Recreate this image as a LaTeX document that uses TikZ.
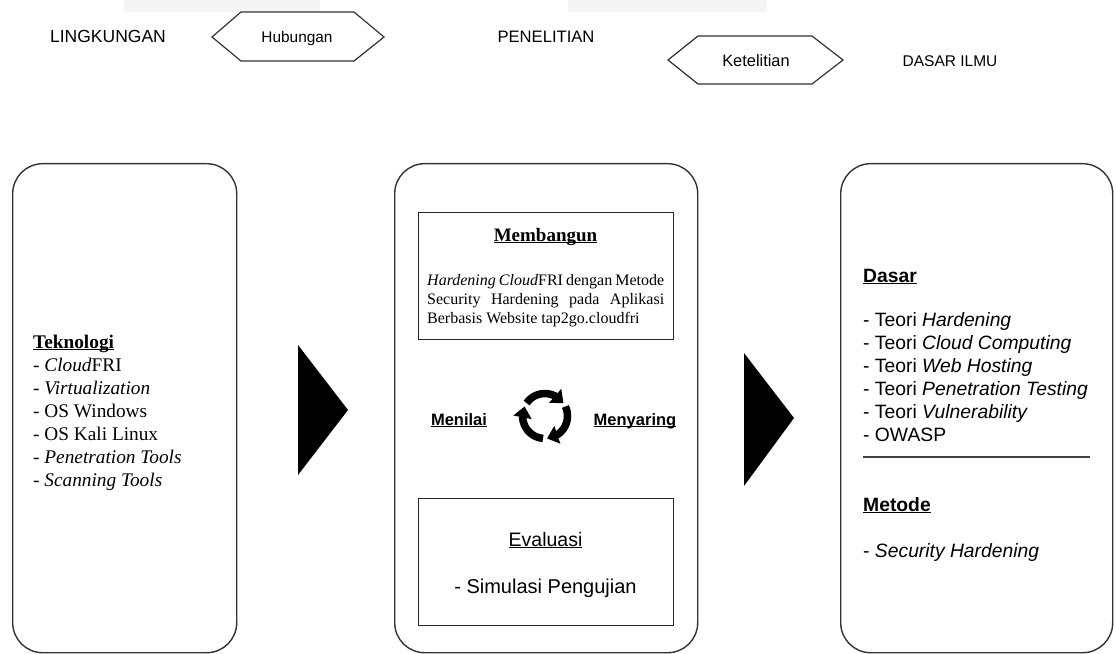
\documentclass[tikz,border=0pt]{standalone}
\usepackage{fontspec}
\setmainfont{Liberation Serif}
\setsansfont{Liberation Sans}
\usetikzlibrary{arrows.meta,bending}
\newcommand{\ulx}[1]{\setbox0\hbox{#1}\rlap{\rule[-0.11em]{\wd0}{0.065em}}\box0}
\begin{document}
\begin{tikzpicture}[x=1bp,y=-1bp,
  panel/.style={draw=black!80, line width=1.4bp, rounded corners=30bp, anchor=north west, inner sep=0},
  inbox/.style={draw=black!85, line width=1.4bp, anchor=north west, inner sep=0},
  hexa/.style={draw=black!80, line width=1.2bp},
  toplabel/.style={font=\sffamily\fontsize{16bp}{19bp}\selectfont, anchor=base, inner sep=0},
  serifline/.style={font=\fontsize{19.3bp}{23bp}\selectfont, anchor=base west, inner sep=0},
  sansline/.style={font=\sffamily\fontsize{19.3bp}{23bp}\selectfont, anchor=base west, inner sep=0},
  sanshead/.style={font=\sffamily\bfseries\fontsize{19.3bp}{23bp}\selectfont, anchor=base west, inner sep=0},
  bodyline/.style={font=\fontsize{16bp}{19bp}\selectfont, anchor=base west, inner sep=0},
  bigarrow/.style={fill=black},
  cyclearc/.style={line width=7.5bp, -{Triangle[width=18bp,length=11bp,flex]}}
]
\useasboundingbox (0,0) rectangle (1116,654);
\fill[black!4] (124,0) rectangle (320,12);
\fill[black!4] (568,0) rectangle (767,12);

% top row
\node[toplabel, font=\sffamily\fontsize{17.5bp}{20bp}\selectfont] (ling) at (108,43) {LINGKUNGAN};
\draw[hexa] (212,37) -- (241,12) -- (354,12) -- (384,37) -- (354,61) -- (241,61) -- cycle;
\node[toplabel, font=\sffamily\fontsize{15.4bp}{18bp}\selectfont] (hub) at (297,43) {Hubungan};
\node[toplabel, font=\sffamily\fontsize{16.6bp}{19bp}\selectfont] (pen) at (546,43) {PENELITIAN};
\draw[hexa] (668,60) -- (698,36) -- (812,36) -- (843,60) -- (812,84) -- (698,84) -- cycle;
\node[toplabel, font=\sffamily\fontsize{16.4bp}{19bp}\selectfont] (ket) at (756,67) {Ketelitian};
\node[toplabel, font=\sffamily\fontsize{15.5bp}{19bp}\selectfont] (dil) at (950,67) {DASAR ILMU};

% panels
\node[panel, minimum width=224bp, minimum height=489bp] (left) at (12,163) {};
\node[panel, minimum width=303bp, minimum height=489bp] (mid) at (394,163) {};
\node[panel, minimum width=272bp, minimum height=489bp] (right) at (840,163) {};

% big arrows
\fill[bigarrow] (298,345) -- (348,410) -- (298,475) -- cycle;
\fill[bigarrow] (744,353) -- (794,418) -- (744,486) -- cycle;

% left panel text
\node[serifline, font=\bfseries\fontsize{19.3bp}{23bp}\selectfont] (tek) at (33,348) {\ulx{Teknologi}};
\node[serifline] (l1) at (33,371) {- \textit{Cloud}FRI};
\node[serifline] (l2) at (33,394) {- \textit{Virtualization}};
\node[serifline] (l3) at (33,417) {- OS Windows};
\node[serifline] (l4) at (33,440) {- OS Kali Linux};
\node[serifline] (l5) at (33,463) {- \textit{Penetration Tools}};
\node[serifline] (l6) at (33,486) {- \textit{Scanning Tools}};

% middle panel
\node[inbox, minimum width=255bp, minimum height=127bp] (build) at (418,212) {};
\node[anchor=base, inner sep=0, font=\bfseries\fontsize{19bp}{23bp}\selectfont] (bt) at (545.5,241) {\ulx{Membangun}};
\node[bodyline] (b1) at (427,285) {\makebox[237bp][s]{\textit{Hardening Cloud}FRI dengan Metode}};
\node[bodyline] (b2) at (427,304) {\makebox[237bp][s]{Security Hardening pada Aplikasi}};
\node[bodyline] (b3) at (427,323) {Berbasis Website tap2go.cloudfri};

\node[anchor=base, inner sep=0, font=\sffamily\bfseries\fontsize{16.5bp}{19bp}\selectfont] (menilai) at (459,425.5) {\ulx{Menilai}};
\node[anchor=base, inner sep=0, font=\sffamily\bfseries\fontsize{16.5bp}{19bp}\selectfont] (menyaring) at (635,425.5) {\ulx{Menyaring}};

\coordinate (cyc) at (545,416);
\begin{scope}[shift={(cyc)}]
  \draw[cyclearc] (-145:22.5) arc[start angle=-145, end angle=-35, radius=22.5];
  \draw[cyclearc] (-25:22.5) arc[start angle=-25, end angle=85, radius=22.5];
  \draw[cyclearc] (95:22.5) arc[start angle=95, end angle=205, radius=22.5];
\end{scope}

\node[inbox, minimum width=255bp, minimum height=127bp] (eval) at (418,498) {};
\node[anchor=base, inner sep=0, font=\sffamily\fontsize{19.5bp}{23bp}\selectfont] (evt) at (545.5,546) {\ulx{Evaluasi}};
\node[anchor=base, inner sep=0, font=\sffamily\fontsize{20bp}{23bp}\selectfont] (sim) at (545.5,593) {- Simulasi Pengujian};

% right panel
\node[sanshead] (dasar) at (863,282) {\ulx{Dasar}};
\node[sansline] (r1) at (863,326) {- Teori \textit{Hardening}};
\node[sansline] (r2) at (863,349) {- Teori \textit{Cloud Computing}};
\node[sansline] (r3) at (863,372) {- Teori \textit{Web Hosting}};
\node[sansline] (r4) at (863,395) {- Teori \textit{Penetration Testing}};
\node[sansline] (r5) at (863,418) {- Teori \textit{Vulnerability}};
\node[sansline] (r6) at (863,441) {- OWASP};
\coordinate (sepL) at (863,457);
\coordinate (sepR) at (1090,457);
\draw[line width=2bp, black!75] (sepL) -- (sepR);
\node[sanshead] (metode) at (863,511) {\ulx{Metode}};
\node[sansline] (m1) at (863,557) {- \textit{Security Hardening}};
\end{tikzpicture}
\end{document}
